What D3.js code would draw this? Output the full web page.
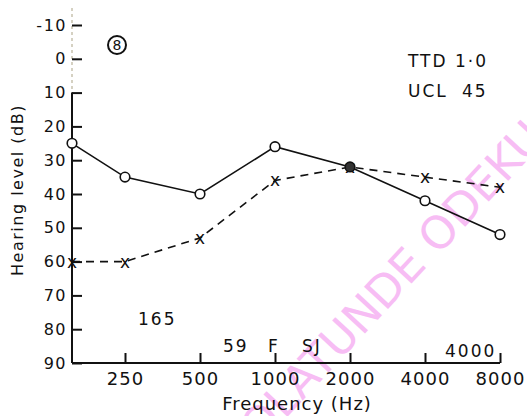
<!DOCTYPE html>
<html>
<head>
<meta charset="utf-8">
<script src="https://cdn.jsdelivr.net/npm/d3@7"></script>
<style>
  body { margin: 0; background: #fff; }
  svg { display: block; font-family: "DejaVu Sans", sans-serif; }
  .lbl { fill: #111; }
</style>
</head>
<body>
<svg id="chart" width="527" height="416"></svg>
<script>
// audiogram values (dB HL)
const freqs      = [125, 250, 500, 1000, 2000, 4000, 8000];
const tickFreqs  = [250, 500, 1000, 2000, 4000, 8000];
const dbTicks    = [-10, 0, 10, 20, 30, 40, 50, 60, 70, 80, 90];
const circleVals = [25, 35, 40, 26, 32, 42, 52];
const crossVals  = [60, 60, 53, 36, 32, 35, 38];

const svg = d3.select('#chart');
const ink = '#111';

const x = d3.scaleLog().domain([125, 250, 8000]).range([72, 125, 500]);
const y = d3.scaleLinear().domain([-10, 90]).range([25, 363]);

// watermark
const wm = svg.append('g').attr('fill', '#f7bdf4')
  .style('font-size', '45px');
wm.append('text')
  .attr('transform', 'translate(428,266) rotate(-47)')
  .attr('text-anchor', 'end')
  .text('OLATUNDE');
wm.append('text')
  .attr('transform', 'translate(438,256) rotate(-47)')
  .text('ODEKU');

// y axis
svg.append('line')
  .attr('x1', 72).attr('x2', 72)
  .attr('y1', 8).attr('y2', y(10))
  .attr('stroke', '#b9b39a').attr('stroke-width', 1.2)
  .attr('stroke-dasharray', '3,3');
svg.append('line')
  .attr('x1', 72).attr('x2', 72)
  .attr('y1', y(10)).attr('y2', y(90))
  .attr('stroke', ink).attr('stroke-width', 2);

const yAxis = svg.append('g')
  .attr('transform', 'translate(72,0)')
  .call(d3.axisLeft(y).tickValues(dbTicks).tickSize(-10).tickPadding(5).tickFormat(d => d));
yAxis.select('.domain').remove();
yAxis.selectAll('.tick line').attr('stroke', ink).attr('stroke-width', 2);
yAxis.selectAll('.tick text')
  .attr('fill', ink)
  .style('font-size', '16px')
  .style('font-family', '"DejaVu Sans", sans-serif')
  .style('letter-spacing', '1.5px');

// x axis
const xAxis = svg.append('g')
  .attr('transform', `translate(0,${y(90)})`)
  .call(d3.axisBottom(x).tickValues(tickFreqs).tickSize(-10).tickSizeOuter(0).tickPadding(9).tickFormat(d => d));
xAxis.select('.domain').attr('stroke', ink).attr('stroke-width', 2)
  .attr('d', `M${x(125)},0H${x(8000)}`);
xAxis.selectAll('.tick line').attr('stroke', ink).attr('stroke-width', 2);
xAxis.selectAll('.tick text')
  .attr('fill', ink)
  .style('font-size', '18px')
  .style('font-family', '"DejaVu Sans", sans-serif')
  .style('letter-spacing', '1px');

// axis titles
svg.append('text').attr('class', 'lbl')
  .attr('transform', 'translate(23,190) rotate(-90)')
  .attr('text-anchor', 'middle')
  .style('font-size', '16px').style('letter-spacing', '1.5px')
  .text('Hearing level (dB)');
svg.append('text').attr('class', 'lbl')
  .attr('x', 297).attr('y', 410)
  .attr('text-anchor', 'middle')
  .style('font-size', '18px').style('letter-spacing', '1px')
  .text('Frequency (Hz)');

// series
const crossPts  = freqs.map((f, i) => [f, crossVals[i]]);
const circlePts = freqs.map((f, i) => [f, circleVals[i]]);
const line = d3.line().x(d => x(d[0])).y(d => y(d[1]));

svg.append('path')
  .attr('d', line(crossPts))
  .attr('fill', 'none').attr('stroke', ink)
  .attr('stroke-width', 1.6).attr('stroke-dasharray', '8,6');

svg.selectAll('.cross')
  .data(crossPts)
  .join('text')
  .attr('class', 'cross lbl')
  .attr('x', d => x(d[0])).attr('y', d => y(d[1]))
  .attr('text-anchor', 'middle').attr('dominant-baseline', 'central')
  .style('font-size', '17px')
  .text('x');

svg.append('path')
  .attr('d', line(circlePts))
  .attr('fill', 'none').attr('stroke', ink).attr('stroke-width', 1.6);

svg.selectAll('.pt')
  .data(circlePts)
  .join('circle')
  .attr('class', 'pt')
  .attr('cx', d => x(d[0])).attr('cy', d => y(d[1]))
  .attr('r', 4.8)
  .attr('fill', (d, i) => freqs[i] === 2000 ? '#333' : '#fff')
  .attr('stroke', ink).attr('stroke-width', 1.6);

// annotations
svg.append('circle').attr('cx', 117).attr('cy', 45).attr('r', 9)
  .attr('fill', 'none').attr('stroke', ink).attr('stroke-width', 2);
svg.append('text').attr('class', 'lbl')
  .attr('x', 117).attr('y', 45).attr('text-anchor', 'middle')
  .attr('dominant-baseline', 'central').style('font-size', '14px')
  .text('8');

const notes = [
  { t: 'TTD', x: 408, y: 67 }, { t: '1·0', x: 455, y: 67 },
  { t: 'UCL', x: 408, y: 97 }, { t: '45', x: 462, y: 97 },
  { t: '165', x: 138, y: 325 },
  { t: '59', x: 223, y: 352 }, { t: 'F', x: 268, y: 352 },
  { t: 'SJ', x: 302, y: 352 },
  { t: '4000', x: 445, y: 357 }
];
svg.selectAll('.note')
  .data(notes)
  .join('text')
  .attr('class', 'note lbl')
  .attr('x', d => d.x).attr('y', d => d.y)
  .style('font-size', '17px').style('letter-spacing', '2px')
  .text(d => d.t);
</script>
</body>
</html>
